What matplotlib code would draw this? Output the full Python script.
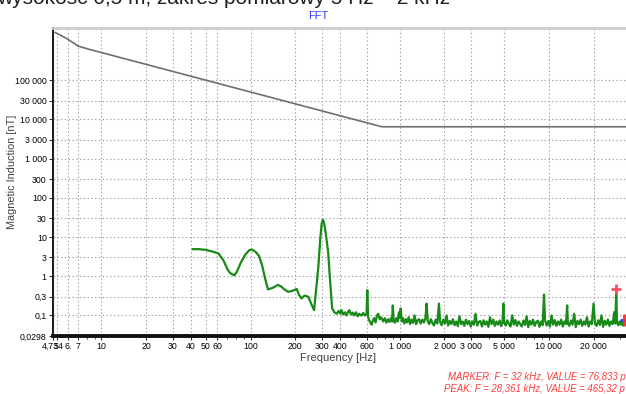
import matplotlib
matplotlib.use("Agg")
import matplotlib.pyplot as plt
from matplotlib.ticker import FixedLocator, NullFormatter

plt.rcParams['font.family'] = ['Liberation Sans', 'DejaVu Sans']

# reference limit curve (gray)
limit_f = [4.9, 5.8, 7.0, 8.2, 760, 34000]
limit_v = [1.65e6, 1.18e6, 7.4e5, 6.2e5, 6500, 6500]

# measured spectrum (green) - low frequency part
spec_f_low = [41, 45, 50, 55, 61, 66, 70, 73, 78, 81, 86, 92, 98, 102, 108, 114,
              120, 126, 131, 140, 153, 160, 170, 179, 190, 204, 212, 220, 230,
              244, 255, 267, 276, 285, 293, 300, 306, 312, 320, 332, 340, 347,
              353, 365, 378]
spec_v_low = [4.9, 4.9, 4.7, 4.3, 3.8, 2.5, 1.5, 1.2, 1.05, 1.3, 2.2, 3.5, 4.6,
              4.8, 4.2, 3.3, 1.8, 0.8, 0.46, 0.5, 0.6, 0.55, 0.45, 0.4, 0.42,
              0.47, 0.33, 0.27, 0.32, 0.3, 0.2, 0.136, 0.5, 1.7, 8.0, 22, 28,
              22, 12, 4.0, 1.0, 0.35, 0.15, 0.12, 0.11]

# measured spectrum (green) - noise floor part
spec_f_hi = [390, 400, 408, 418, 430, 440, 452, 460, 472, 485, 497, 510, 524,
             536, 548, 556, 570, 585, 600, 607, 615, 625, 637, 649, 662, 675,
             690, 705, 720, 735, 750, 776, 795, 815, 835, 855, 875, 890, 900,
             912, 930, 950, 970, 990, 1005, 1017, 1035, 1055, 1075, 1100, 1125,
             1150, 1175, 1200, 1230, 1260, 1290, 1320, 1350, 1385, 1420, 1455,
             1490, 1518, 1545, 1580, 1620, 1660, 1700, 1745, 1790, 1836, 1870,
             1915, 1965, 2015, 2065, 2115, 2170, 2225, 2280, 2340, 2400, 2460,
             2520, 2585, 2650, 2715, 2785, 2855, 2925, 3000, 3075, 3150, 3230,
             3310, 3395, 3480, 3570, 3660, 3750, 3845, 3940, 4040, 4140, 4245,
             4350, 4460, 4570, 4690, 4800, 4900, 4966, 5030, 5150, 5280, 5410,
             5550, 5690, 5830, 5980, 6130, 6280, 6440, 6600, 6770, 6940, 7110,
             7290, 7470, 7660, 7850, 8050, 8250, 8460, 8670, 8890, 9110, 9300,
             9450, 9700, 9950, 10200, 10450, 10710, 10980, 11260, 11540, 11830,
             12130, 12430, 12740, 13060, 13300, 13450, 13750, 14100, 14450,
             14820, 15190, 15570, 15960, 16360, 16770, 17190, 17620, 18060,
             18510, 18980, 19450, 20000, 20450, 20960, 21490, 22030, 22580,
             23150, 23730, 24320, 24930, 25560, 26200, 26850, 27520, 28050,
             28361, 28700, 29300, 29900, 30500, 31100, 31700, 32000]
spec_v_hi = [0.13, 0.11, 0.136, 0.105, 0.12, 0.1, 0.125, 0.136, 0.105, 0.118,
             0.1, 0.12, 0.095, 0.11, 0.1, 0.1, 0.115, 0.1, 0.105, 0.44, 0.09,
             0.075, 0.065, 0.058, 0.075, 0.085, 0.066, 0.1, 0.11, 0.08, 0.09,
             0.07, 0.085, 0.065, 0.08, 0.068, 0.085, 0.07, 0.18, 0.075, 0.065,
             0.085, 0.07, 0.12, 0.085, 0.15, 0.07, 0.085, 0.062, 0.08, 0.066,
             0.09, 0.06, 0.078, 0.064, 0.1, 0.06, 0.075, 0.08, 0.062,
             0.078, 0.066, 0.085, 0.2, 0.07, 0.06, 0.08, 0.064, 0.055, 0.078,
             0.062, 0.2, 0.068, 0.056, 0.078, 0.062, 0.1, 0.055, 0.072, 0.06,
             0.08, 0.056, 0.07, 0.053, 0.095, 0.06, 0.07, 0.054, 0.078, 0.06,
             0.072, 0.052, 0.07, 0.058, 0.11, 0.055, 0.068, 0.072, 0.052, 0.075,
             0.058, 0.07, 0.051, 0.09, 0.06, 0.078, 0.054, 0.07, 0.058, 0.074,
             0.053, 0.068, 0.2, 0.066, 0.055, 0.075, 0.06, 0.052, 0.1, 0.058,
             0.076, 0.054, 0.07, 0.06, 0.052, 0.074, 0.057, 0.095, 0.05, 0.072,
             0.058, 0.078, 0.054, 0.068, 0.073, 0.051, 0.07, 0.056, 0.34,
             0.075, 0.055, 0.072, 0.052, 0.1, 0.058, 0.076, 0.054, 0.07, 0.058,
             0.078, 0.052, 0.07, 0.06, 0.18, 0.062, 0.054, 0.074, 0.058, 0.11,
             0.05, 0.072, 0.06, 0.078, 0.054, 0.07, 0.058, 0.09, 0.052, 0.07,
             0.06, 0.2, 0.062, 0.054, 0.075, 0.057, 0.1, 0.051, 0.073, 0.058,
             0.078, 0.054, 0.07, 0.06, 0.12, 0.062, 0.465, 0.07, 0.056, 0.07,
             0.058, 0.076, 0.055, 0.077]

marker_f, marker_v = 32000, 0.0768
peak_f, peak_v = 28361, 0.46532

x_ticks = [4.734, 5, 6, 7, 10, 20, 30, 40, 50, 60, 100, 200, 300, 400, 600,
           1000, 2000, 3000, 5000, 10000, 20000]
x_labels = ["4,734", "5", "6.", "7", "10", "20", "30", "40", "50", "60", "100",
            "200", "300", "400", "600", "1 000", "2 000", "3 000", "5 000",
            "10 000", "20 000"]
y_ticks = [0.0298, 0.1, 0.3, 1, 3, 10, 30, 100, 300, 1000, 3000, 10000, 30000,
           100000]
y_labels = ["0,0298", "0,1", "0,3", "1", "3", "10", "30", "100", "300",
            "1 000", "3 000", "10 000", "30 000", "100 000"]

fig = plt.figure(figsize=(6.26, 3.94), dpi=100)
ax = fig.add_axes([53 / 626, 1 - 336 / 394, 1 - 53 / 626, (336 - 28) / 394])
ax.set_xscale('log')
ax.set_yscale('log')
ax.set_xlim(4.734, 33000)
ax.set_ylim(0.0298, 2.15e6)

ax.plot(limit_f, limit_v, color='#6e6e6e', lw=1.2, zorder=3)
ax.plot(spec_f_low + spec_f_hi, spec_v_low + spec_v_hi, color='#178a17',
        lw=1.6, zorder=4)
ax.plot([peak_f], [peak_v], marker='+', color='#ff5060', ms=7, mew=2, zorder=6)
ax.plot([marker_f], [marker_v], marker='_', color='#3040ff', ms=6, mew=2,
        zorder=6)
ax.plot([marker_f], [marker_v], marker='|', color='#ff3030', ms=9, mew=2,
        zorder=6, clip_on=False)

ax.xaxis.set_major_locator(FixedLocator(x_ticks))
ax.set_xticklabels(x_labels)
ax.xaxis.set_minor_locator(FixedLocator(
    [8, 9] + [a * 10 ** k for k in (1, 2, 3) for a in range(2, 10)] +
    [a * 10000 for a in range(2, 4)]))
ax.xaxis.set_minor_formatter(NullFormatter())
ax.yaxis.set_major_locator(FixedLocator(y_ticks))
ax.set_yticklabels(y_labels)
ax.yaxis.set_minor_locator(FixedLocator([]))

ax.tick_params(axis='both', which='major', labelsize=6.3, length=3,
               width=0.8, pad=1.5, color='#333333')
ax.tick_params(axis='x', which='minor', length=2, width=0.6, color='#333333')
ax.grid(True, which='major', color='#a0a0a0', linestyle=(0, (1.2, 2.2)),
        lw=0.8)

ax.spines['left'].set_linewidth(1.5)
ax.spines['left'].set_color('#202020')
ax.spines['bottom'].set_linewidth(2.8)
ax.spines['bottom'].set_color('#101010')
ax.spines['top'].set_linewidth(2.0)
ax.spines['top'].set_color('#cccccc')
ax.spines['right'].set_visible(False)

fig.text(318 / 626, 1 - 16 / 394, "FFT", color='#3a3aff', fontsize=8,
         ha='center', va='center')
fig.text(-3 / 626, 1 - 4 / 394,
         "wysokość 0,5 m, zakres pomiarowy 5 Hz – 2 kHz",
         fontsize=15, ha='left', va='baseline', color='#202020')
fig.text(12 / 626, 1 - 172 / 394, "Magnetic Induction [nT]", rotation=90,
         fontsize=7.8, ha='center', va='center', color='#404040')
fig.text(338 / 626, 1 - 358 / 394, "Frequency [Hz]", fontsize=8.0,
         ha='center', va='center', color='#404040')
fig.text(448 / 626, 1 - 377 / 394,
         "MARKER: F = 32 kHz, VALUE = 76,833 pT", fontsize=6.9,
         style='italic', color='#ff3c3c', ha='left', va='center')
fig.text(444 / 626, 1 - 389 / 394,
         "PEAK: F = 28,361 kHz, VALUE = 465,32 pT", fontsize=6.9,
         style='italic', color='#ff3c3c', ha='left', va='center')

fig.savefig("out.png", dpi=100)
